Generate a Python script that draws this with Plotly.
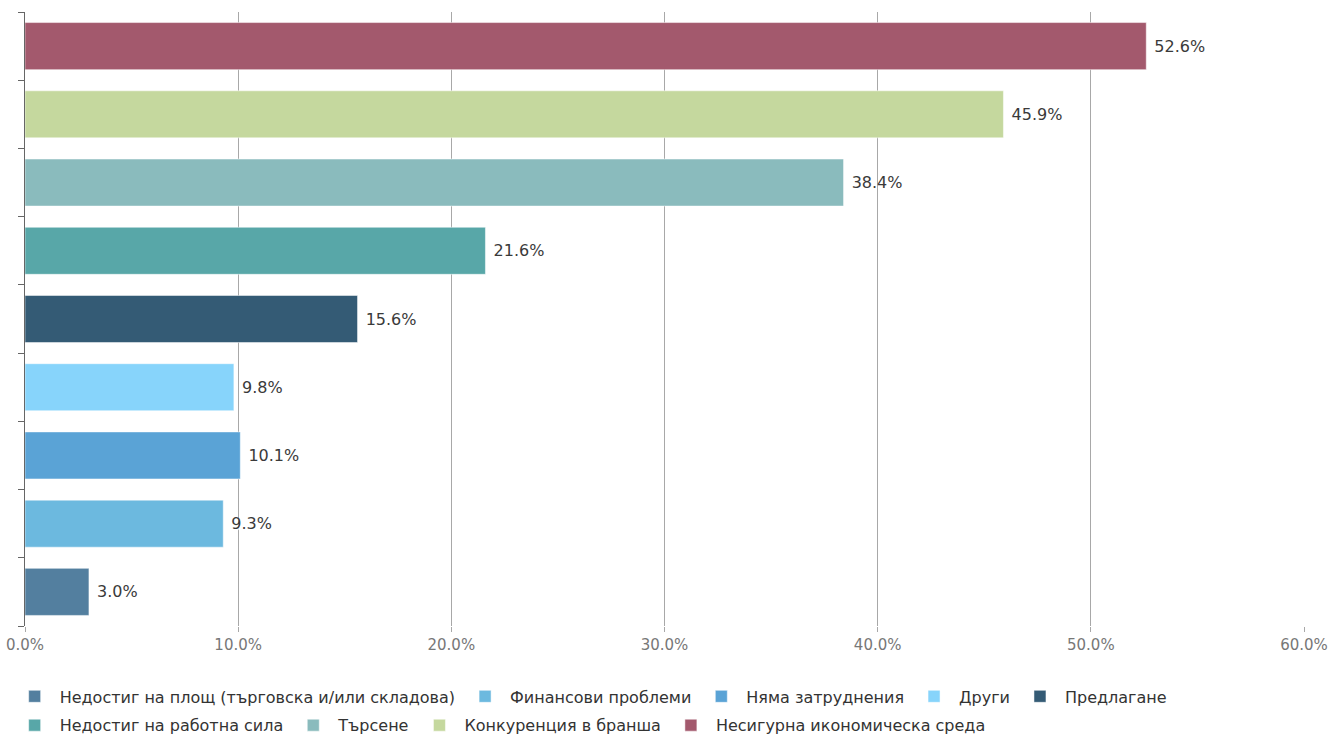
import plotly.graph_objects as go

categories = [
    "Недостиг на площ (търговска и/или складова)",
    "Финансови проблеми",
    "Няма затруднения",
    "Други",
    "Предлагане",
    "Недостиг на работна сила",
    "Търсене",
    "Конкуренция в бранша",
    "Несигурна икономическа среда",
]
values = [3.0, 9.3, 10.1, 9.8, 15.6, 21.6, 38.4, 45.9, 52.6]
colors = ["#537f9f", "#6cb9df", "#5aa3d6", "#87d4fb", "#345b75",
          "#58a7a8", "#8abbbd", "#c5d89e", "#a3596d"]
legend_rows = ["legend", "legend", "legend", "legend", "legend",
               "legend2", "legend2", "legend2", "legend2"]
x_ticks = [0, 10, 20, 30, 40, 50, 60]
x_tick_labels = [f"{v:.1f}%" for v in x_ticks]

fig = go.Figure()
for cat, val, col, lg in zip(categories, values, colors, legend_rows):
    fig.add_trace(go.Bar(
        x=[val], y=[cat], name=cat, orientation="h", legend=lg,
        marker=dict(color=col, line=dict(color="rgba(255,255,255,0.5)", width=1)),
        texttemplate=" %{x:.1f}%", textposition="outside",
        textfont=dict(size=16, color="#3a3a3a", family="DejaVu Sans", shadow="1px 1px 1px #ffffff"),
        cliponaxis=False, hoverinfo="x+name",
    ))

legend_common = dict(orientation="h", xanchor="left", yanchor="top",
                     font=dict(size=16, color="#333333", family="DejaVu Sans"),
                     traceorder="normal", itemwidth=40, bgcolor="rgba(0,0,0,0)")

fig.update_layout(
    width=1331, height=737,
    margin=dict(l=25, r=27, t=12, b=111, autoexpand=False),
    barmode="overlay", bargap=0.31,
    plot_bgcolor="white", paper_bgcolor="white",
    font=dict(family="DejaVu Sans", size=15, color="#555555"),
    legend=dict(x=-0.012, y=-0.087, **legend_common),
    legend2=dict(x=-0.012, y=-0.134, **legend_common),
    showlegend=True,
)
fig.update_xaxes(
    range=[0, 60], tickvals=x_ticks, ticktext=x_tick_labels,
    showgrid=True, gridcolor="#a8a8a8", gridwidth=1, zeroline=False,
    ticks="outside", ticklen=5, tickcolor="#a8a8a8", automargin=False,
    tickfont=dict(size=15, color="#777777"), showline=False,
)
fig.update_yaxes(
    categoryorder="array", categoryarray=categories,
    showticklabels=False, showgrid=False, zeroline=False, automargin=False,
    showline=True, linecolor="#666666", linewidth=1,
    ticks="outside", ticklen=6, tickcolor="#666666", tickson="boundaries",
)
fig.write_html("out.html", config={"displayModeBar": False},
               post_script="document.body.style.margin='0';document.body.style.overflow='hidden';")
